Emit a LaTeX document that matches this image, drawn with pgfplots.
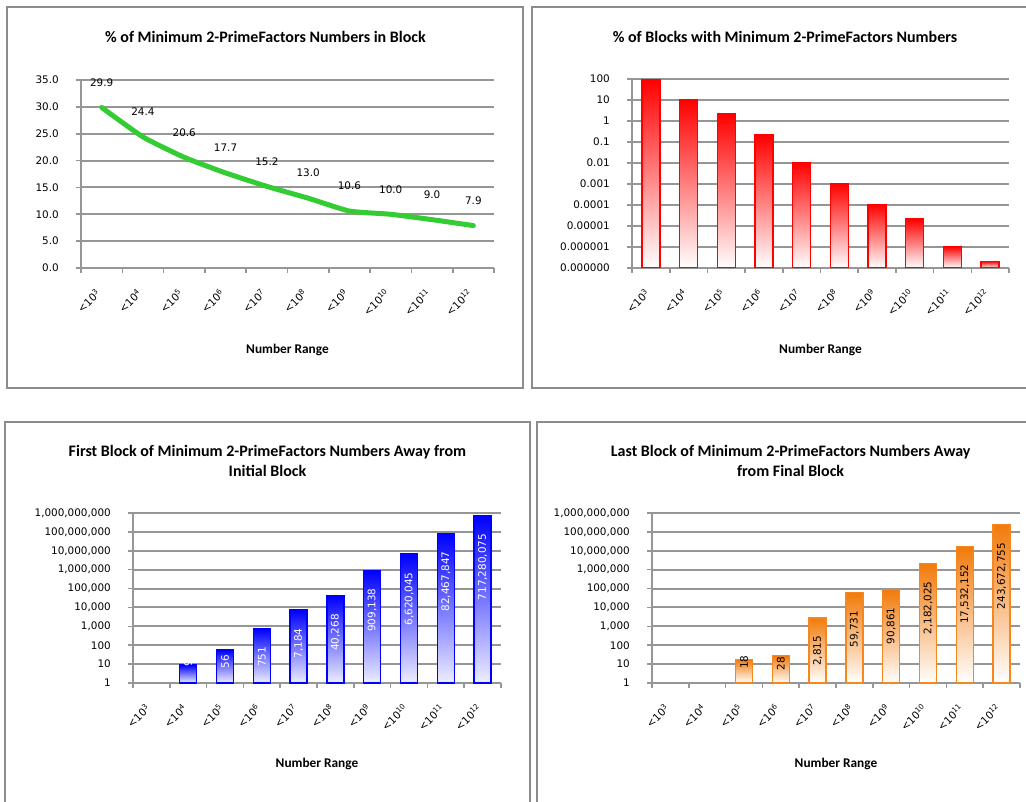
\documentclass[border=0pt]{standalone}
\usepackage{pgfplots}
\pgfplotsset{compat=1.18}
\usepackage{pgfplotstable}
\usepackage{fontspec}
\setmainfont{DejaVu Sans}
\newfontfamily\calibri{Carlito}

\definecolor{gridgray}{RGB}{150,150,150}
\definecolor{framegray}{RGB}{140,140,140}
\definecolor{linegreen}{RGB}{51,204,51}
\definecolor{barred}{RGB}{255,0,0}
\definecolor{barblue}{RGB}{0,0,255}
\definecolor{barbluelow}{RGB}{238,238,255}
\definecolor{barorange}{RGB}{242,122,10}
\definecolor{barorangeedge}{RGB}{245,135,30}

\pgfplotstableread{
x y label
0 29.9 29.9
1 24.4 24.4
2 20.6 20.6
3 17.7 17.7
4 15.2 15.2
5 13.0 13.0
6 10.6 10.6
7 10.0 10.0
8 9.0 9.0
9 7.9 7.9
}\pctblock

\pgfplotstableread{
x y
0 100
1 10.8
2 2.15
3 0.215
4 1.08e-2
5 1.08e-3
6 1.08e-4
7 2.15e-5
8 1.05e-6
9 2.1e-7
}\pctblocks

\pgfplotstableread{
x y label
1 9 9
2 56 56
3 751 751
4 7184 7,184
5 40268 40,268
6 909138 909,138
7 6620045 6,620,045
8 82467847 82,467,847
9 717280075 717,280,075
}\firstblock

\pgfplotstableread{
x y label
2 18 18
3 28 28
4 2815 2,815
5 59731 59,731
6 90861 90,861
7 2182025 2,182,025
8 17532152 17,532,152
9 243672755 243,672,755
}\lastblock

\newcommand{\ticklabelfont}{\fontsize{7.8}{9}\selectfont}
\newcommand{\titlefont}{\calibri\bfseries\fontsize{12}{15}\selectfont}

\pgfplotsset{
  panel/.style={
    scale only axis,
    xmin=-0.5, xmax=9.5,
    xtick={0,...,9},
    xticklabels={{<10\textsuperscript{3}},{<10\textsuperscript{4}},{<10\textsuperscript{5}},{<10\textsuperscript{6}},{<10\textsuperscript{7}},{<10\textsuperscript{8}},{<10\textsuperscript{9}},{<10\textsuperscript{10}},{<10\textsuperscript{11}},{<10\textsuperscript{12}}},
    minor xtick={-0.5,0.5,...,9.5},
    yminorticks=false,
    tick align=outside,
    major tick length=3.75pt,
    minor tick length=3.75pt,
    tick style={gridgray, line width=1.2pt},
    major x tick style={draw=none},
    axis x line*=bottom,
    axis y line*=left,
    axis line style={gridgray, line width=1.5pt},
    ymajorgrids,
    major grid style={gridgray, line width=1.5pt},
    tick label style={font=\ticklabelfont, text=black},
    xticklabel style={rotate=45, anchor=east},
    xticklabel shift=11pt,
    yticklabel shift=9.4pt,
    xlabel={Number Range},
    xlabel style={font=\calibri\bfseries\fontsize{10}{12}\selectfont, at={(axis description cs:0.5,0)}, anchor=center, yshift=-61.5pt},
    /pgf/number format/assume math mode=true,
  },
  barlabel/.style={draw=none, nodes near coords, point meta=explicit symbolic,
    every node near coord/.append style={font=\ticklabelfont, text=#1, inner sep=0pt}},
}

\begin{document}
\begin{tikzpicture}
\useasboundingbox (0,0) rectangle (769.5pt,600.75pt);

% Panel 1
\begin{axis}[panel, at={(60.75pt,399.75pt)}, anchor=south west,
  width=309.75pt, height=141pt,
  ymin=0, ymax=35, ytick={0,5,...,35},
  yticklabels={0.0,5.0,10.0,15.0,20.0,25.0,30.0,35.0}]
\addplot[linegreen, line width=3.75pt, line join=round, line cap=round, smooth, tension=0.3,
  nodes near coords, point meta=explicit symbolic,
  every node near coord/.append style={font=\ticklabelfont, text=black, anchor=center, yshift=18.75pt}]
  table[x=x, y=y, meta=label] {\pctblock};
\end{axis}

% Panel 2
\begin{axis}[panel, at={(474pt,399.75pt)}, anchor=south west,
  width=282.75pt, height=141.75pt,
  ymode=log, log origin y=infty,
  ymin=1e-7, ymax=100,
  ytick={1e-7,1e-6,1e-5,1e-4,1e-3,1e-2,1e-1,1,10,100},
  yticklabels={0.000000,0.000001,0.00001,0.0001,0.001,0.01,0.1,1,10,100}]
\pgfplotsinvokeforeach{0,...,9}{
\addplot[ybar, bar width=13.5pt, draw=barred, line width=1pt, top color=barred, bottom color=white,
  restrict x to domain=#1:#1]
  table[x=x, y=y] {\pctblocks};
}
\end{axis}

% Panel 3
\begin{axis}[panel, at={(99.75pt,88.5pt)}, anchor=south west,
  width=276pt, height=127.5pt,
  ymode=log, log origin y=infty,
  ymin=1, ymax=1e9,
  ytick={1,10,100,1000,1e4,1e5,1e6,1e7,1e8,1e9},
  yticklabels={1,10,100,{1,000},{10,000},{100,000},{1,000,000},{10,000,000},{100,000,000},{1,000,000,000}},
  xlabel style={yshift=0.75pt}]
\pgfplotsinvokeforeach{1,...,9}{
\addplot[ybar, bar width=12.75pt, draw=barblue, line width=1pt, top color=barblue, bottom color=barbluelow,
  restrict x to domain=#1:#1]
  table[x=x, y=y] {\firstblock};
}
\addplot[barlabel=white, restrict x to domain=3:9,
  every node near coord/.append style={yshift=-13.5pt, rotate=90, anchor=east}]
  table[x=x, y=y, meta=label] {\firstblock};
\addplot[barlabel=white, restrict x to domain=1:1,
  every node near coord/.append style={yshift=3.75pt, rotate=90, anchor=east}]
  table[x=x, y=y, meta=label] {\firstblock};
\addplot[barlabel=white, restrict x to domain=2:2,
  every node near coord/.append style={yshift=-3.75pt, rotate=90, anchor=east}]
  table[x=x, y=y, meta=label] {\firstblock};
\end{axis}

% Panel 4
\begin{axis}[panel, at={(489pt,88.5pt)}, anchor=south west,
  width=276pt, height=127.5pt,
  ymode=log, log origin y=infty,
  ymin=1, ymax=1e9,
  ytick={1,10,100,1000,1e4,1e5,1e6,1e7,1e8,1e9},
  yticklabels={1,10,100,{1,000},{10,000},{100,000},{1,000,000},{10,000,000},{100,000,000},{1,000,000,000}},
  xlabel style={yshift=0.75pt}]
\pgfplotsinvokeforeach{2,...,9}{
\addplot[ybar, bar width=12.75pt, draw=barorangeedge, line width=1pt, top color=barorange, bottom color=white,
  restrict x to domain=#1:#1]
  table[x=x, y=y] {\lastblock};
}
\addplot[barlabel=black, restrict x to domain=4:9,
  every node near coord/.append style={yshift=-13.5pt, rotate=90, anchor=east}]
  table[x=x, y=y, meta=label] {\lastblock};
\addplot[barlabel=black, restrict x to domain=2:2,
  every node near coord/.append style={yshift=3pt, rotate=90, anchor=east}]
  table[x=x, y=y, meta=label] {\lastblock};
\addplot[barlabel=black, restrict x to domain=3:3,
  every node near coord/.append style={yshift=-0.75pt, rotate=90, anchor=east}]
  table[x=x, y=y, meta=label] {\lastblock};
\end{axis}

% frames
\draw[framegray, line width=1.5pt] (5.25pt,309.75pt) rectangle (392.25pt,595.5pt);
\draw[framegray, line width=1.5pt] (399pt,309.75pt) rectangle (772pt,595.5pt);
\draw[framegray, line width=1.5pt] (3.75pt,-5pt) rectangle (397.5pt,284.25pt);
\draw[framegray, line width=1.5pt] (402.75pt,-5pt) rectangle (772pt,284.25pt);

% titles
\node[font=\titlefont] at (199.1pt,573pt) {\% of Minimum 2-PrimeFactors Numbers in Block};
\node[font=\titlefont] at (588.75pt,573pt) {\% of Blocks with Minimum 2-PrimeFactors Numbers};
\node[font=\titlefont, align=center] at (200.6pt,255pt) {First Block of Minimum 2-PrimeFactors Numbers Away from\\Initial Block};
\node[font=\titlefont, align=center] at (593pt,255pt) {Last Block of Minimum 2-PrimeFactors Numbers Away\\from Final Block};
\end{tikzpicture}
\end{document}
